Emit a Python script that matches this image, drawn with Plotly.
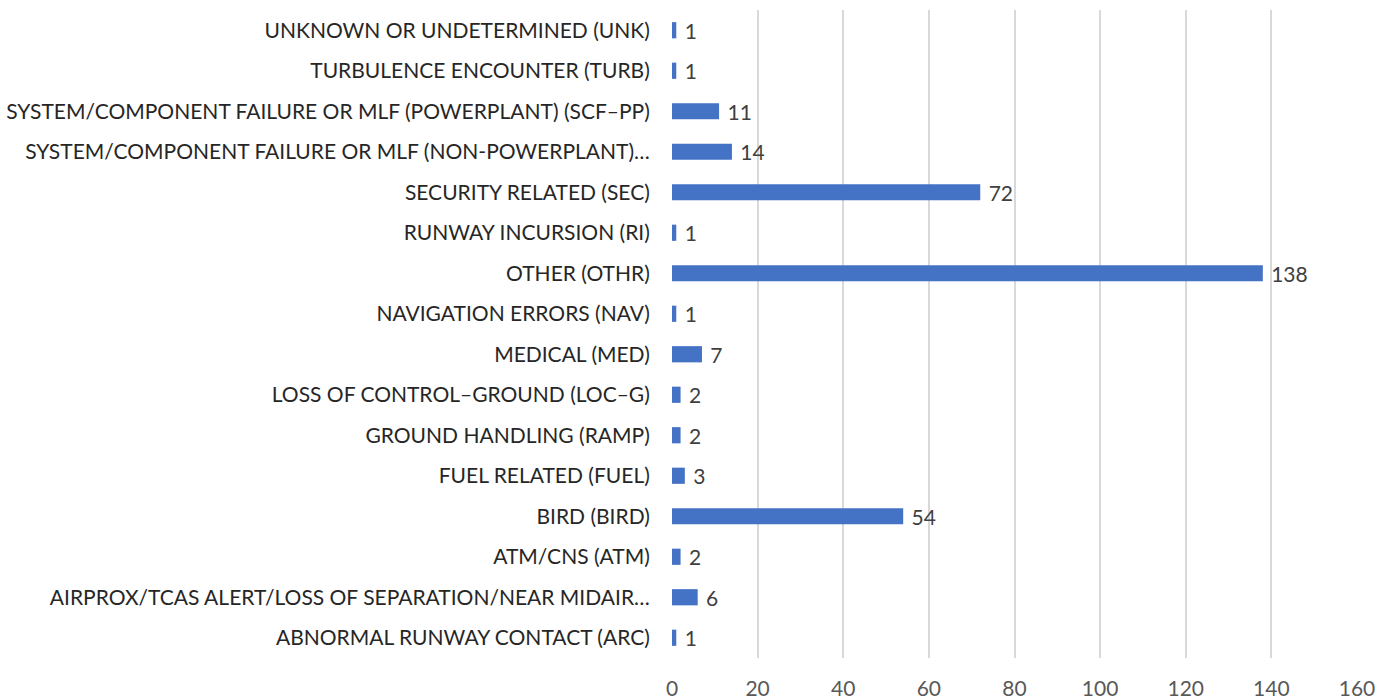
import plotly.graph_objects as go

categories = [
    "ABNORMAL RUNWAY CONTACT (ARC)",
    "AIRPROX/TCAS ALERT/LOSS OF SEPARATION/NEAR MIDAIR…",
    "ATM/CNS (ATM)",
    "BIRD (BIRD)",
    "FUEL RELATED (FUEL)",
    "GROUND HANDLING (RAMP)",
    "LOSS OF CONTROL–GROUND (LOC–G)",
    "MEDICAL (MED)",
    "NAVIGATION ERRORS (NAV)",
    "OTHER (OTHR)",
    "RUNWAY INCURSION (RI)",
    "SECURITY RELATED (SEC)",
    "SYSTEM/COMPONENT FAILURE OR MLF (NON-POWERPLANT)…",
    "SYSTEM/COMPONENT FAILURE OR MLF (POWERPLANT) (SCF–PP)",
    "TURBULENCE ENCOUNTER (TURB)",
    "UNKNOWN OR UNDETERMINED (UNK)",
]
values = [1, 6, 2, 54, 3, 2, 2, 7, 1, 138, 1, 72, 14, 11, 1, 1]
x_ticks = [0, 20, 40, 60, 80, 100, 120, 140, 160]

FONT = "Lato"
FS = 21

fig = go.Figure(go.Bar(
    y=categories,
    x=values,
    orientation="h",
    marker=dict(color="#4472C4", line=dict(width=0)),
    text=[" " + str(v) for v in values],
    textposition="outside",
    constraintext="none",
    textfont=dict(family=FONT, size=FS, color="#404040"),
    cliponaxis=False,
    hoverinfo="skip",
))

fig.update_layout(
    width=1381, height=700,
    margin=dict(l=672, r=24, t=10, b=42, autoexpand=False),
    paper_bgcolor="white", plot_bgcolor="white",
    bargap=0.6,
    showlegend=False,
    font=dict(family=FONT, size=FS, color="#404040"),
    xaxis=dict(
        range=[0, 160], tickvals=x_ticks, ticktext=[str(t) for t in x_ticks],
        showgrid=True, gridcolor="#D9D9D9", gridwidth=2,
        zeroline=False, showline=False,
        tickfont=dict(family=FONT, size=FS, color="#595959"),
        ticks="outside", ticklen=0, ticklabelstandoff=12,
        fixedrange=True,
    ),
    yaxis=dict(
        categoryorder="array", categoryarray=categories,
        tickfont=dict(family=FONT, size=FS, color="#262626"),
        showgrid=False, zeroline=False, showline=False,
        ticks="outside", ticklen=0, ticklabelstandoff=17,
        fixedrange=True,
    ),
)

fig.write_html(
    "out.html",
    config={"displayModeBar": False},
    post_script="document.body.style.margin='0';document.body.style.overflow='hidden';",
)
